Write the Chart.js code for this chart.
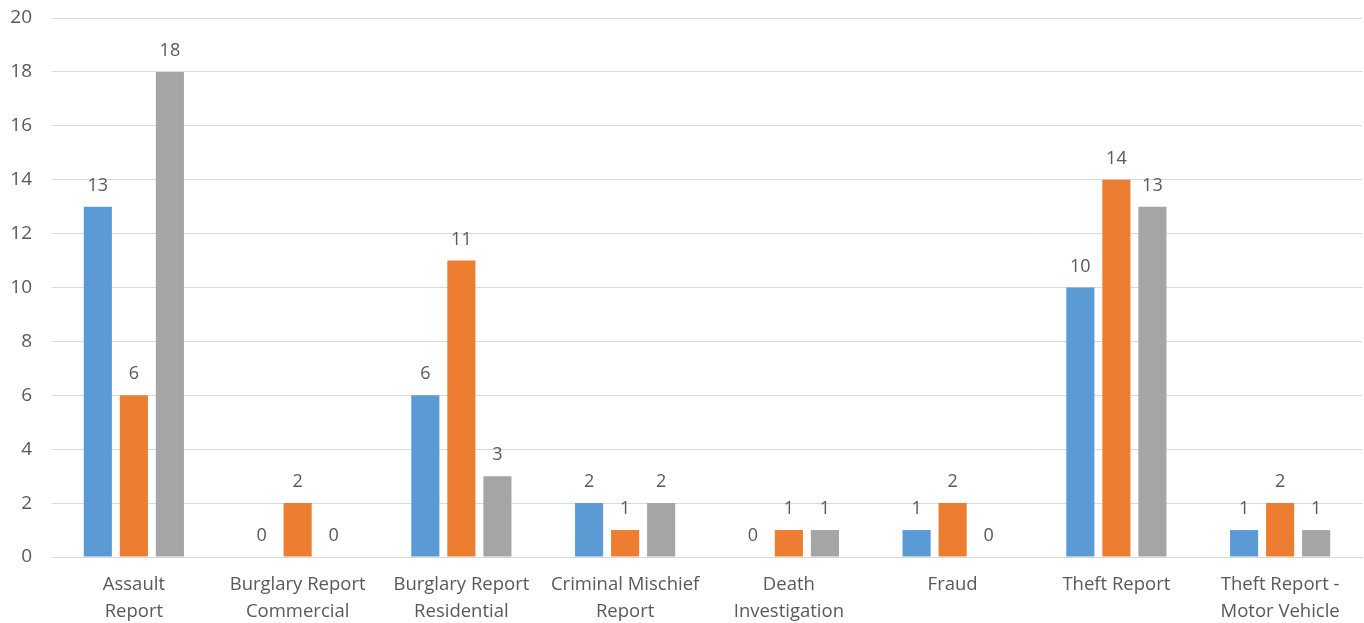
<!DOCTYPE html>
<html>
<head>
<meta charset="utf-8">
<script src="https://cdn.jsdelivr.net/npm/chart.js@4"></script>
<style>
  html, body { margin: 0; padding: 0; background: #fff; }
  #wrap { width: 1364px; height: 623px; }
</style>
</head>
<body>
<div id="wrap"><canvas id="myChart"></canvas></div>
<script>
const categories = [
  ["Assault", "Report"],
  ["Burglary Report", "Commercial"],
  ["Burglary Report", "Residential"],
  ["Criminal Mischief", "Report"],
  ["Death", "Investigation"],
  ["Fraud"],
  ["Theft Report"],
  ["Theft Report -", "Motor Vehicle"]
];
const seriesA = [13, 0, 6, 2, 0, 1, 10, 1];
const seriesB = [6, 2, 11, 1, 1, 2, 14, 2];
const seriesC = [18, 0, 3, 2, 1, 0, 13, 1];
const yTicks = [0, 2, 4, 6, 8, 10, 12, 14, 16, 18, 20];

const textColor = '#595959';
const fontFamily = "'Open Sans', 'Noto Sans', sans-serif";

// draws the value above every bar, zeros too
const valueLabels = {
  id: 'valueLabels',
  afterDatasetsDraw(chart) {
    const ctx = chart.ctx;
    ctx.save();
    ctx.fillStyle = textColor;
    ctx.font = '18px ' + fontFamily;
    ctx.textAlign = 'center';
    ctx.textBaseline = 'bottom';
    chart.data.datasets.forEach((ds, i) => {
      chart.getDatasetMeta(i).data.forEach((bar, j) => {
        ctx.fillText(ds.data[j], bar.x, bar.y - 12);
      });
    });
    ctx.restore();
  }
};

const myChart = new Chart(document.getElementById('myChart').getContext('2d'), {
  type: 'bar',
  data: {
    labels: categories,
    datasets: [
      { label: 'A', data: seriesA, backgroundColor: '#5B9BD5' },
      { label: 'B', data: seriesB, backgroundColor: '#ED7D31' },
      { label: 'C', data: seriesC, backgroundColor: '#A5A5A5' }
    ]
  },
  options: {
    responsive: true,
    maintainAspectRatio: false,
    animation: false,
    categoryPercentage: 0.66,
    barPercentage: 0.78,
    layout: { padding: { top: 18, right: 2, left: 0, bottom: 0 } },
    plugins: {
      legend: { display: false },
      tooltip: { enabled: false }
    },
    scales: {
      x: {
        grid: { display: false },
        border: { color: '#D9D9D9', width: 1 },
        afterFit(axis) {
          axis.height = 66;
          axis.paddingLeft = 0;
          axis.paddingRight = 0;
        },
        ticks: {
          color: textColor,
          font: { size: 18.5, family: fontFamily, lineHeight: 1.45 },
          maxRotation: 0,
          padding: 6
        }
      },
      y: {
        min: 0,
        max: 20,
        afterBuildTicks(axis) {
          axis.ticks = yTicks.map(v => ({ value: v }));
        },
        afterFit(axis) {
          axis.width = 52;
          axis.paddingTop = 0;
          axis.paddingBottom = 0;
        },
        grid: { color: '#D9D9D9', lineWidth: 1, drawTicks: false },
        border: { display: false },
        ticks: {
          color: textColor,
          font: { size: 19, family: fontFamily },
          padding: 20
        }
      }
    }
  },
  plugins: [valueLabels]
});
</script>
</body>
</html>
